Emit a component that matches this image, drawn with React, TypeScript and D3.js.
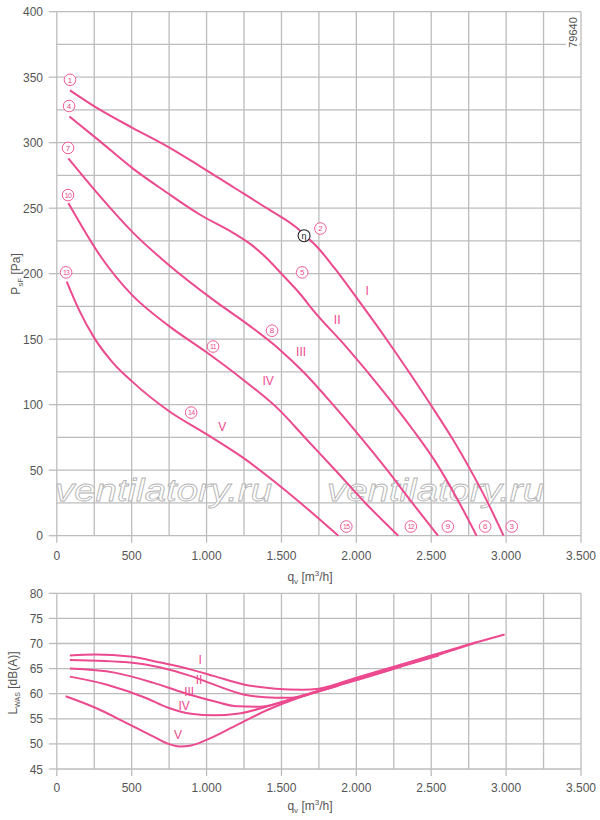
import * as d3 from 'd3';

const pink = '#ec4a8f';
const gridColor = '#bcbcbc';
const ink = '#555';
const font = '"Liberation Sans", Arial, sans-serif';

// static pressure curves, q [m3/h] / p [Pa]
const qI = [88, 290, 511, 740, 957, 1180, 1402, 1602, 1651, 1734, 1856, 2012, 2201, 2357, 2502, 2647, 2758, 2870, 2983];
const pI = [340, 325, 311, 297, 282, 266, 250, 235, 230, 221, 204, 180, 150, 124, 99, 73, 51, 27, 0];
const qII = [84, 289, 511, 734, 957, 1180, 1300, 1400, 1500, 1625, 1712, 1934, 2157, 2380, 2536, 2669, 2803];
const pII = [320, 301, 280, 262, 245, 231, 222, 212, 200, 184.5, 172, 144, 113.5, 80.5, 55, 29, 0];
const qIII = [77, 289, 512, 734, 1045, 1290, 1489, 1655, 1844, 2022, 2200, 2367, 2545];
const pIII = [288, 259, 231, 208, 180, 160, 142, 124, 100, 76, 51, 26, 0];
const qIV = [77, 300, 500, 750, 1000, 1250, 1490, 1656, 1860, 2060, 2280];
const pIV = [254, 212, 184, 160, 140, 118.5, 95.5, 75, 50, 25, 0];
const qV = [66, 150, 250, 375, 500, 750, 1000, 1250, 1500, 1750, 1880];
const pV = [194, 172, 151, 132, 118, 95, 77.5, 59, 37, 13, 0];

// sound power curves, q [m3/h] / L [dB(A)]
const qLI = [87, 258, 488, 693, 897, 1051, 1255, 1460, 1639, 1750, 2000, 2250, 2500, 2750, 2990];
const lI = [67.6, 67.8, 67.4, 66.2, 64.8, 63.5, 61.8, 61.0, 60.8, 61.0, 63.2, 65.4, 67.6, 69.8, 71.8];
const qLII = [87, 488, 693, 897, 1051, 1255, 1460, 1562, 1741, 2000, 2250, 2500, 2800];
const lII = [66.7, 66.2, 65.2, 63.5, 61.8, 59.8, 59.2, 59.2, 60.5, 62.9, 65.1, 67.3, 70.2];
const qLIII = [87, 386, 642, 846, 1051, 1204, 1357, 1511, 1741, 2000, 2250, 2550];
const lIII = [65.0, 64.2, 62.2, 60.2, 58.5, 57.5, 57.4, 58.4, 60.4, 62.8, 65.0, 67.6];
const qLIV = [87, 335, 591, 744, 897, 1051, 1204, 1409, 1613, 1800, 2050, 2300];
const lIV = [63.4, 61.8, 59.2, 57.2, 56.0, 55.7, 56.0, 57.5, 59.4, 61.0, 63.1, 65.4];
const qLV = [59, 258, 463, 642, 744, 821, 897, 1000, 1204, 1409, 1613, 1880];
const lV = [59.5, 57.2, 54.2, 51.5, 50.0, 49.5, 49.7, 50.8, 53.8, 56.8, 59.2, 61.6];

const romans = ['I', 'II', 'III', 'IV', 'V'];
const romanQTop = [2072, 1872, 1631, 1411, 1104];
const romanPTop = [187, 165, 140.4, 118.2, 83];
const romanQBot = [957, 950, 884, 850, 810];
const romanLBot = [66.9, 62.9, 60.5, 57.7, 51.9];

// circled operating point numbers
const pointNames = ['1', '4', '7', '10', '13', '2', '5', '8', '11', '14', '3', '6', '9', '12', '15'];
const pointQ = [88, 82, 75, 75, 62, 1760, 1638, 1437, 1043, 897, 3038, 2860, 2611, 2364, 1933];
const pointP = [348, 328, 296, 260, 201, 234.5, 201, 156.5, 144.4, 94, 7, 7, 7, 7, 7];
const etaQ = 1651;
const etaP = 229;

const qTicks = [0, 500, 1000, 1500, 2000, 2500, 3000, 3500];
const pTicks = [0, 50, 100, 150, 200, 250, 300, 350, 400];
const lTicks = [45, 50, 55, 60, 65, 70, 75, 80];

const fmtQ = (v: number) => (v >= 1000 ? d3.format(',')(v).replace(',', '.') : String(v));

export default function App() {
  const x = d3.scaleLinear().domain([0, 3500]).range([56.8, 581]);
  const yTop = d3.scaleLinear().domain([0, 400]).range([535.7, 11.7]);
  const yBot = d3.scaleLinear().domain([45, 80]).range([769, 593.3]);

  const lineTop = d3.line<[number, number]>().x(d => x(d[0])).y(d => yTop(d[1])).curve(d3.curveMonotoneX);
  const lineBot = d3.line<[number, number]>().x(d => x(d[0])).y(d => yBot(d[1])).curve(d3.curveMonotoneX);
  const zip = (a: number[], b: number[]) => a.map((v, i) => [v, b[i]] as [number, number]);

  const topSeries = [zip(qI, pI), zip(qII, pII), zip(qIII, pIII), zip(qIV, pIV), zip(qV, pV)];
  const botSeries = [zip(qLI, lI), zip(qLII, lII), zip(qLIII, lIII), zip(qLIV, lIV), zip(qLV, lV)];

  const vGrid = d3.range(0, 3501, 250);
  const hGridTop = d3.range(0, 401, 25);
  const hGridBot = d3.range(45, 81, 5);

  const xAxis = (y0: number, labelY: number) => (
    <g>
      {qTicks.map(t => (
        <g key={t}>
          <line x1={x(t)} x2={x(t)} y1={y0} y2={y0 + 7} stroke={gridColor} strokeWidth={1.3} />
          <text x={x(t)} y={labelY} textAnchor="middle" fontSize={12} fill={ink}>{fmtQ(t)}</text>
        </g>
      ))}
    </g>
  );

  const xTitle = (cy: number) => (
    <text x={310} y={cy} textAnchor="middle" fontSize={12} fill={ink}>
      q<tspan fontSize={8} dy={3}>v</tspan>
      <tspan dy={-3}> [m</tspan>
      <tspan fontSize={8} dy={-5}>3</tspan>
      <tspan dy={5}>/h]</tspan>
    </text>
  );

  return (
    <svg width={600} height={820} style={{ position: 'absolute', left: 0, top: 0, background: '#fff' }}
      fontFamily={font}>
      {/* ---------- top chart grid ---------- */}
      <g>
        {vGrid.map(v => (
          <line key={'v' + v} x1={x(v)} x2={x(v)} y1={yTop(400)} y2={yTop(0)} stroke={gridColor} strokeWidth={1.3} />
        ))}
        {hGridTop.map(v => (
          <line key={'h' + v} x1={x(0)} x2={x(3500)} y1={yTop(v)} y2={yTop(v)} stroke={gridColor} strokeWidth={1.3} />
        ))}
        {pTicks.map(t => (
          <g key={'pt' + t}>
            <line x1={x(0) - 8} x2={x(0)} y1={yTop(t)} y2={yTop(t)} stroke={gridColor} strokeWidth={1.3} />
            <text x={43} y={yTop(t) + 4.5} textAnchor="end" fontSize={12} fill={ink}>{t}</text>
          </g>
        ))}
        {xAxis(yTop(0), 560)}
      </g>

      {/* watermark */}
      {[55, 327].map(wx => (
        <text key={wx} x={wx} y={501} fontSize={32} fontStyle="italic" fill="#fff" stroke="#b3b3b3"
          strokeWidth={0.8} textLength={217} lengthAdjust="spacingAndGlyphs">ventilatory.ru</text>
      ))}

      {/* drawing number */}
      <rect x={566} y={14} width={13} height={38} fill="#fff" />
      <text transform="translate(577,32.5) rotate(-90)" textAnchor="middle" fontSize={11} fill={ink}>79640</text>

      {/* ---------- top chart curves ---------- */}
      {topSeries.map((s, i) => (
        <path key={'ts' + i} d={lineTop(s) ?? ''} fill="none" stroke={pink} strokeWidth={2} />
      ))}
      {romans.map((r, i) => (
        <text key={'rt' + r} x={x(romanQTop[i])} y={yTop(romanPTop[i]) + 4.5} textAnchor="middle" fontSize={12}
          fill={pink}>{r}</text>
      ))}
      {pointNames.map((n, i) => (
        <g key={'pn' + n} transform={`translate(${x(pointQ[i])},${yTop(pointP[i])})`}>
          <circle r={5.8} fill="#fff" stroke={pink} strokeWidth={0.9} />
          <text y={2.7} textAnchor="middle" fontSize={n.length > 1 ? 7 : 8} fill={pink}
            letterSpacing={n.length > 1 ? -0.7 : 0}>{n}</text>
        </g>
      ))}
      <g transform={`translate(${x(etaQ)},${yTop(etaP)})`}>
        <circle r={6} fill="#fff" stroke="#222" strokeWidth={1.1} />
        <text y={3} textAnchor="middle" fontSize={9} fill="#222">η</text>
      </g>

      <text transform="translate(20,274) rotate(-90)" textAnchor="middle" fontSize={12} fill={ink}>
        P<tspan fontSize={8} dy={3}>sF</tspan><tspan dy={-3}> [Pa]</tspan>
      </text>
      {xTitle(581)}

      {/* ---------- bottom chart ---------- */}
      <g>
        {vGrid.map(v => (
          <line key={'bv' + v} x1={x(v)} x2={x(v)} y1={yBot(80)} y2={yBot(45)} stroke={gridColor} strokeWidth={1.3} />
        ))}
        {hGridBot.map(v => (
          <line key={'bh' + v} x1={x(0)} x2={x(3500)} y1={yBot(v)} y2={yBot(v)} stroke={gridColor} strokeWidth={1.3} />
        ))}
        {lTicks.map(t => (
          <g key={'lt' + t}>
            <line x1={x(0) - 8} x2={x(0)} y1={yBot(t)} y2={yBot(t)} stroke={gridColor} strokeWidth={1.3} />
            <text x={43} y={yBot(t) + 4.5} textAnchor="end" fontSize={12} fill={ink}>{t}</text>
          </g>
        ))}
        {xAxis(yBot(45), 792)}
      </g>
      {botSeries.map((s, i) => (
        <path key={'bs' + i} d={lineBot(s) ?? ''} fill="none" stroke={pink} strokeWidth={2} />
      ))}
      {romans.map((r, i) => (
        <text key={'rb' + r} x={x(romanQBot[i])} y={yBot(romanLBot[i]) + 4.5} textAnchor="middle" fontSize={12}
          fill={pink}>{r}</text>
      ))}
      <text transform="translate(17,683) rotate(-90)" textAnchor="middle" fontSize={12} fill={ink}>
        L<tspan fontSize={7} dy={3}>WAS</tspan><tspan dy={-3}> [dB(A)]</tspan>
      </text>
      {xTitle(810)}
    </svg>
  );
}
